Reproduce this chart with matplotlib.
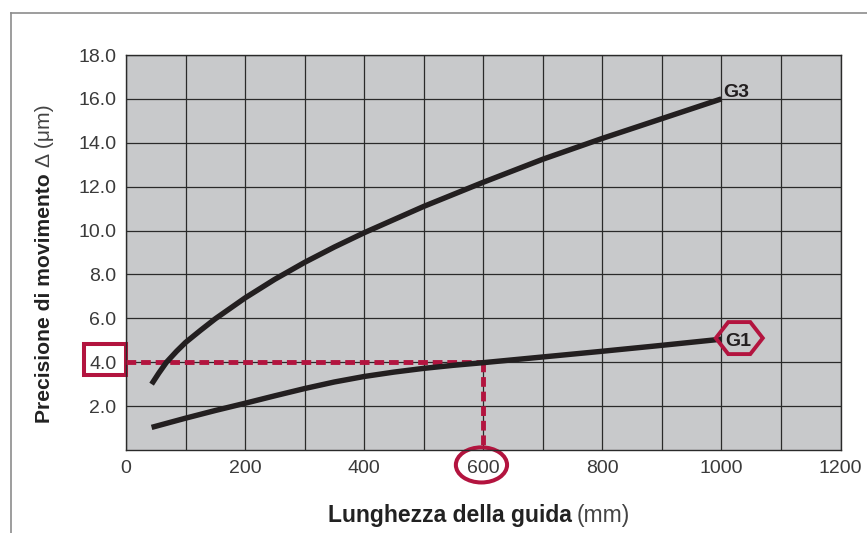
import matplotlib
matplotlib.use('Agg')
import matplotlib.pyplot as plt
from matplotlib.patches import Rectangle, Ellipse, Polygon
from matplotlib.transforms import ScaledTranslation
from matplotlib.lines import Line2D

plt.rcParams['font.family'] = ['Liberation Sans', 'DejaVu Sans']

# curve G3 (upper) and G1 (lower)
g3_x = [43, 55, 68, 85, 100, 125, 150, 200, 250, 300, 350, 400, 450, 500, 600, 700, 800, 900, 1000]
g3_y = [3.0, 3.5, 4.0, 4.5, 4.9, 5.45, 5.98, 6.93, 7.78, 8.55, 9.25, 9.9, 10.5, 11.1, 12.2, 13.25, 14.2, 15.1, 16.0]
g1_x = [43, 100, 150, 200, 250, 300, 350, 400, 450, 500, 550, 600, 700, 800, 900, 1000]
g1_y = [1.03, 1.45, 1.8, 2.13, 2.47, 2.8, 3.1, 3.35, 3.55, 3.72, 3.86, 3.98, 4.24, 4.5, 4.77, 5.05]

x_ticks = [0, 200, 400, 600, 800, 1000, 1200]
y_ticks = [2, 4, 6, 8, 10, 12, 14, 16, 18]
sel_x, sel_y = 600, 4.0

red = '#B3143F'
dark = '#231F20'
grid_c = '#2a2a2a'

fig = plt.figure(figsize=(8.67, 5.33), dpi=100)
ax = fig.add_axes([126 / 867, 83 / 533, 714.5 / 867, 395 / 533])
ax.set_facecolor('#C8C9CB')
ax.set_xlim(0, 1200)
ax.set_ylim(0, 18)

ax.set_xticks(x_ticks)
ax.set_xticks(range(0, 1201, 100), minor=True)
ax.set_yticks(y_ticks)
ax.set_yticklabels(['%.1f' % v for v in y_ticks])
ax.grid(True, which='both', color=grid_c, lw=0.9)
ax.set_axisbelow(True)
ax.tick_params(which='both', length=0, labelsize=14, colors='#3a3a3a')
ax.tick_params(axis='y', pad=7)
ax.tick_params(axis='x', pad=7)
for s in ax.spines.values():
    s.set_color(grid_c)
    s.set_linewidth(1.0)

# selection lines
ax.plot([0, sel_x], [sel_y, sel_y], color=red, lw=3.5, linestyle=(0, (2.0, 1.0)), zorder=3)
ax.plot([sel_x, sel_x], [sel_y, 0], color=red, lw=3.5, linestyle=(0, (2.0, 1.0)), zorder=3)

ax.plot(g3_x, g3_y, color=dark, lw=3.9, solid_capstyle='butt', solid_joinstyle='round', zorder=4)
ax.plot(g1_x, g1_y, color=dark, lw=3.9, solid_capstyle='butt', solid_joinstyle='round', zorder=4)

# labels of the curves
ax.text(1003, 16.1, 'G3', fontsize=14, fontweight='bold', color=dark,
        ha='left', va='baseline')
hex_pts = [(-0.235, 0), (-0.11, 0.16), (0.11, 0.16), (0.235, 0), (0.11, -0.16), (-0.11, -0.16)]
hexa = Polygon(hex_pts, closed=True, fill=False, ec=red, lw=2.8,
               transform=fig.dpi_scale_trans + ScaledTranslation(1030, 5.1, ax.transData),
               clip_on=False, zorder=5)
ax.add_patch(hexa)
ax.text(1028, 4.76, 'G1', fontsize=14, fontweight='bold', color=dark,
        ha='center', va='baseline', zorder=6)

# highlight boxes on tick labels
ax.add_patch(Rectangle((-70, 3.4), 70, 1.45, fill=False, ec=red, lw=2.9, clip_on=False))
ax.add_patch(Ellipse((597, -0.68), 86, 1.6, fill=False, ec=red, lw=2.9, clip_on=False))

# axis titles, bold part + regular part
fig.text(572 / 867, 1 - 522 / 533, 'Lunghezza della guida', fontsize=16.5,
         fontweight='bold', color='#222222', ha='right', va='baseline')
fig.text(577 / 867, 1 - 522 / 533, '(mm)', fontsize=16.5, color='#444444',
         ha='left', va='baseline')
ylab = fig.text(45 / 867, 1 - 423 / 533, 'Precisione di movimento', fontsize=15.2,
                fontweight='bold', color='#222222', rotation=90, ha='center', va='bottom')
r = fig.canvas.get_renderer()
bb = ylab.get_window_extent(r)
fig.text(45 / 867, (bb.y1 + 6) / 533, 'Δ (μm)', fontsize=15.2, color='#444444',
         rotation=90, ha='center', va='bottom')

# outer frame
fig.add_artist(Line2D([11 / 867, 11 / 867], [0, 1 - 13 / 533], color='#8c8c8c', lw=1.2))
fig.add_artist(Line2D([11 / 867, 1], [1 - 13 / 533, 1 - 13 / 533], color='#8c8c8c', lw=1.2))

fig.savefig('out.png', dpi=100)
